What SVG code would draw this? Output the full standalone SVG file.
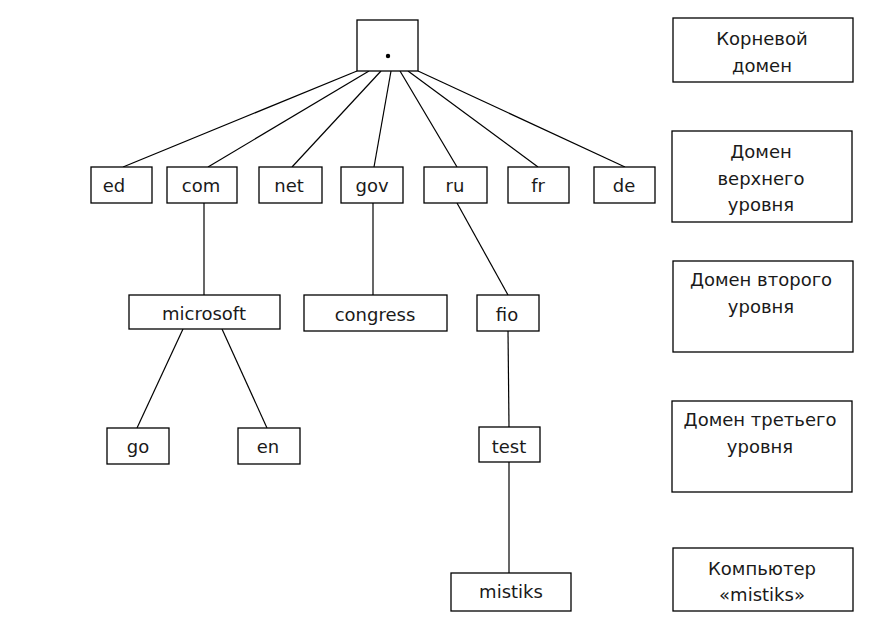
<svg xmlns="http://www.w3.org/2000/svg" width="891" height="636" viewBox="0 0 891 636">
<style>
.b{fill:#fff;stroke:#000;stroke-width:1.3}
.t{font-family:"DejaVu Sans","Noto Sans",sans-serif;font-size:18px;fill:#1a1a1a;text-anchor:middle}
.c line{stroke:#000;stroke-width:1.2}
</style>
<rect width="891" height="636" fill="#fff"/>
<g class="c" id="connectors">
<line x1="357" y1="71" x2="123" y2="167"/>
<line x1="369" y1="71" x2="208" y2="167"/>
<line x1="381" y1="71" x2="292" y2="167"/>
<line x1="391" y1="71" x2="374" y2="167"/>
<line x1="400" y1="71" x2="457" y2="167"/>
<line x1="408" y1="71" x2="538" y2="167"/>
<line x1="418" y1="71" x2="625" y2="167"/>
<line x1="204" y1="203" x2="204" y2="295"/>
<line x1="373" y1="203" x2="373" y2="295"/>
<line x1="457" y1="203" x2="508" y2="295"/>
<line x1="183" y1="329" x2="137" y2="428"/>
<line x1="222" y1="329" x2="267" y2="428"/>
<line x1="508" y1="331" x2="509" y2="427"/>
<line x1="509" y1="462" x2="509" y2="573"/>
</g>
<g id="root"><rect class="b" x="357" y="20" width="61" height="51"/><circle cx="388" cy="56" r="2.2" fill="#000"/></g>
<g id="ed"><rect class="b" x="91" y="167" width="61" height="36"/><text class="t" x="114" y="192">ed</text></g>
<g id="com"><rect class="b" x="167" y="167" width="70" height="36"/><text class="t" x="201" y="192">com</text></g>
<g id="net"><rect class="b" x="259" y="167" width="63" height="36"/><text class="t" x="289" y="192">net</text></g>
<g id="gov"><rect class="b" x="341" y="167" width="62" height="36"/><text class="t" x="372" y="192">gov</text></g>
<g id="ru"><rect class="b" x="424" y="167" width="63" height="36"/><text class="t" x="455" y="192">ru</text></g>
<g id="fr"><rect class="b" x="508" y="167" width="61" height="36"/><text class="t" x="538" y="192">fr</text></g>
<g id="de"><rect class="b" x="594" y="167" width="61" height="36"/><text class="t" x="624" y="192">de</text></g>
<g id="microsoft"><rect class="b" x="129" y="295" width="151" height="34"/><text class="t" x="204" y="320">microsoft</text></g>
<g id="congress"><rect class="b" x="304" y="295" width="143" height="36"/><text class="t" x="375" y="321">congress</text></g>
<g id="fio"><rect class="b" x="477" y="295" width="62" height="36"/><text class="t" x="507" y="321">fio</text></g>
<g id="go"><rect class="b" x="107" y="428" width="62" height="36"/><text class="t" x="138" y="453">go</text></g>
<g id="en"><rect class="b" x="238" y="428" width="62" height="36"/><text class="t" x="268" y="453">en</text></g>
<g id="test"><rect class="b" x="479" y="427" width="61" height="35"/><text class="t" x="509" y="453">test</text></g>
<g id="mistiks"><rect class="b" x="451" y="573" width="120" height="38"/><text class="t" x="511" y="598">mistiks</text></g>
<g id="legend-root"><rect class="b" x="673" y="18" width="180" height="64"/><text class="t" x="762" y="45">Корневой</text><text class="t" x="762" y="72">домен</text></g>
<g id="legend-top"><rect class="b" x="672" y="131" width="180" height="91"/><text class="t" x="761" y="158">Домен</text><text class="t" x="761" y="185">верхнего</text><text class="t" x="761" y="211">уровня</text></g>
<g id="legend-second"><rect class="b" x="673" y="261" width="180" height="91"/><text class="t" x="761" y="286">Домен второго</text><text class="t" x="761" y="313">уровня</text></g>
<g id="legend-third"><rect class="b" x="672" y="401" width="180" height="91"/><text class="t" x="760" y="426">Домен третьего</text><text class="t" x="760" y="453">уровня</text></g>
<g id="legend-pc"><rect class="b" x="673" y="548" width="180" height="63"/><text class="t" x="762" y="575">Компьютер</text><text class="t" x="762" y="601">«mistiks»</text></g>
</svg>
